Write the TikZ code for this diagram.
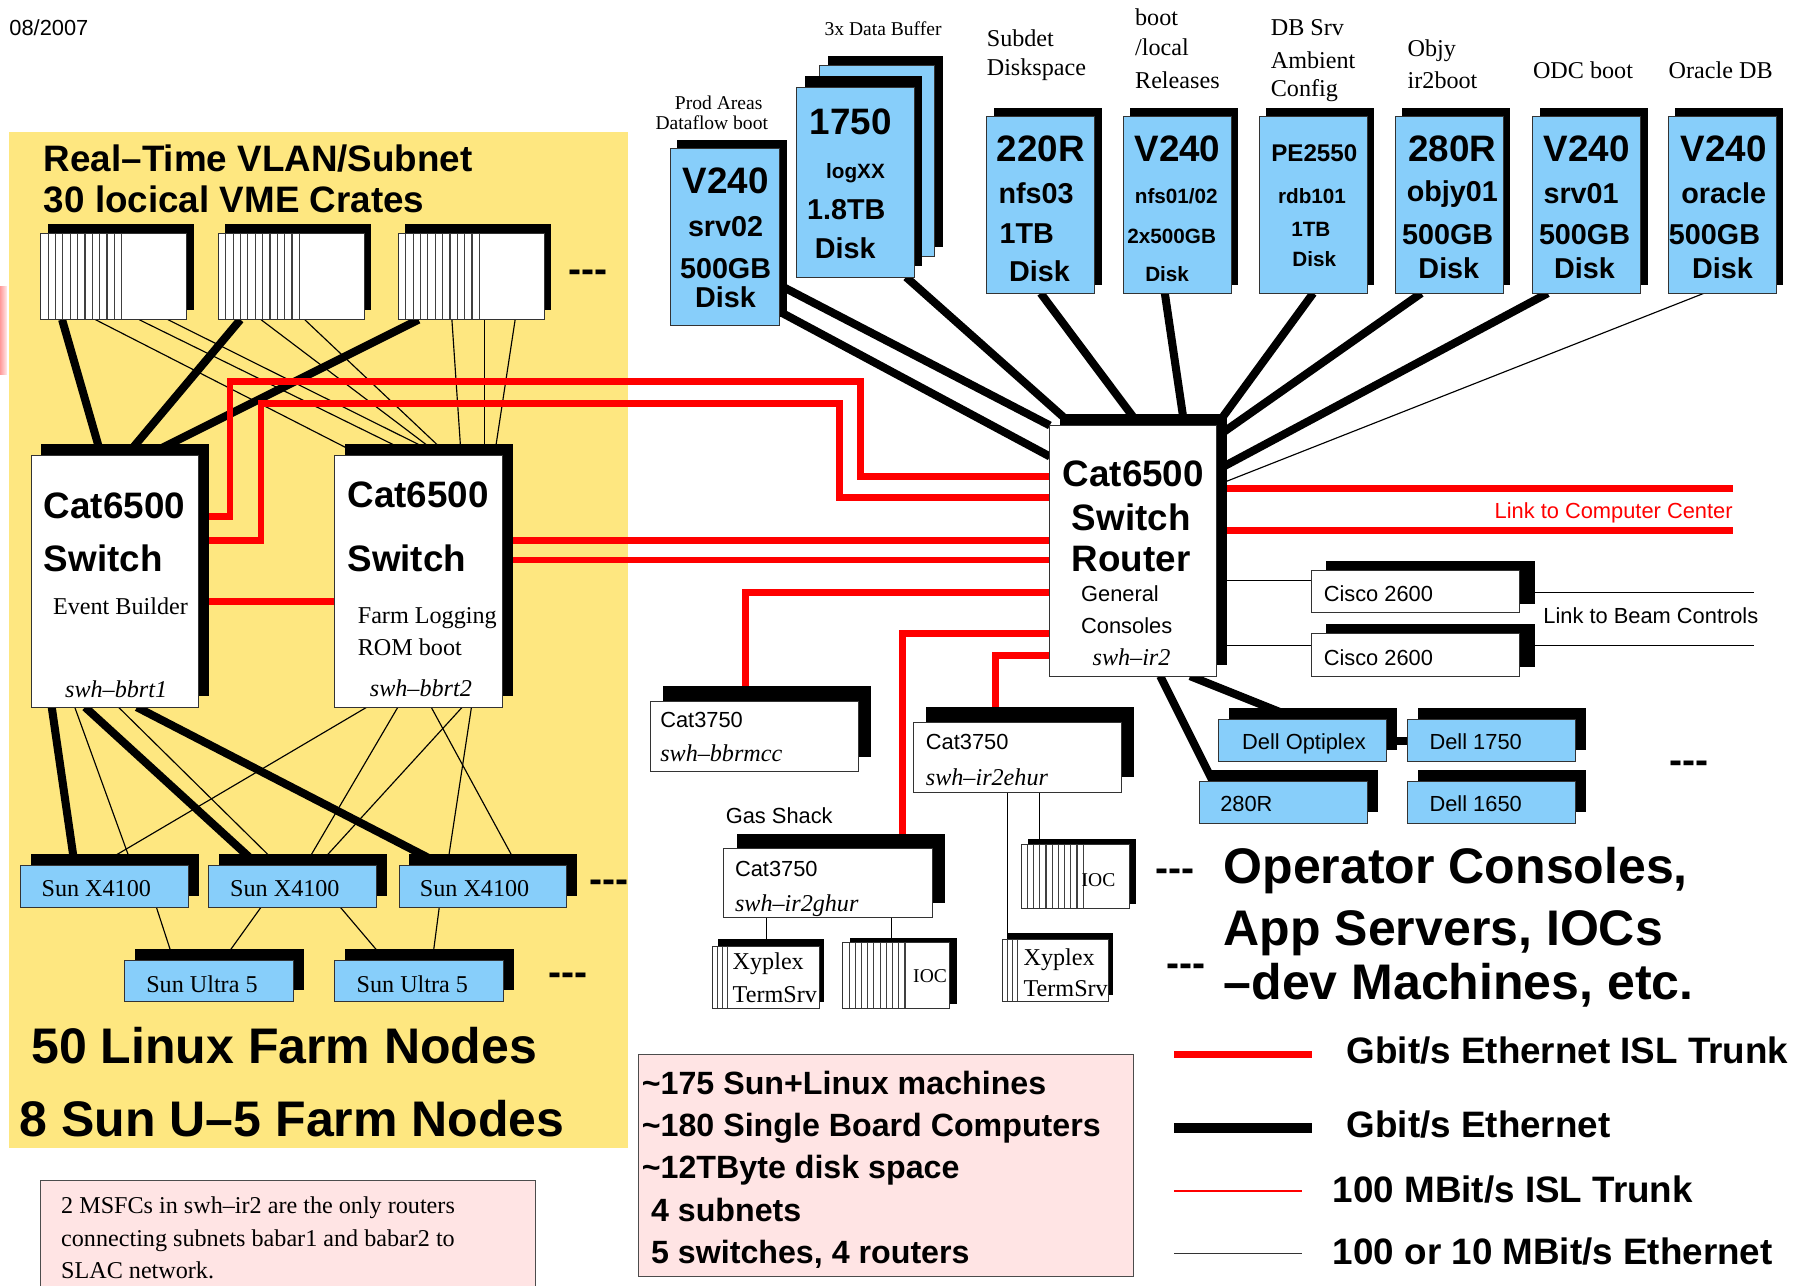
\documentclass[tikz,border=0pt]{standalone}
\usepackage{fontspec}
\setmainfont{Liberation Serif}
\setsansfont{Liberation Sans}
\usepackage{tikz}
\usetikzlibrary{shadows}
\definecolor{vlanyellow}{RGB}{254,231,128}
\definecolor{hostblue}{RGB}{135,206,250}
\definecolor{notepink}{RGB}{255,228,228}
\pgfdeclarelayer{canvas}
\pgfdeclarelayer{background}
\pgfsetlayers{canvas,background,main}

\begin{document}
\begin{tikzpicture}[x=1pt, y=-1pt]

    % Shadows and slot stripes
    \tikzset{shd/.style 2 args={drop shadow={shadow xshift=#1pt, shadow yshift=#2pt, fill=black, opacity=1}}}
    \tikzset{rack/.style 2 args={path picture={\foreach \s in {1,...,#1} \draw[line width=1pt, black!75] ([xshift=\s*#2pt]path picture bounding box.south west) -- ([xshift=\s*#2pt]path picture bounding box.north west);}}}

    % Boxes
    \tikzset{bx/.style={draw=black!80, line width=0.8pt, inner sep=0pt, outer sep=0pt}}
    \tikzset{crate/.style={bx, fill=white, minimum width=127pt, minimum height=75pt, shd={6}{8}, rack={11}{6.4}}}
    \tikzset{swc/.style={bx, fill=white, minimum width=146pt, minimum height=219pt, shd={9}{10}}}
    \tikzset{diskb/.style={bx, fill=hostblue}}
    \tikzset{disk/.style={diskb, minimum width=94pt, minimum height=154pt, shd={6}{7}}}
    \tikzset{cat/.style={bx, fill=white, minimum width=181pt, minimum height=61pt, shd={11}{13}}}
    \tikzset{host/.style={bx, fill=hostblue, minimum width=146pt, minimum height=36pt, shd={9}{10}}}
    \tikzset{cisco/.style={bx, fill=white, minimum width=181pt, minimum height=37pt, shd={13}{8}}}
    \tikzset{ioc/.style={bx, fill=white, minimum width=93pt, minimum height=57pt, shd={6}{4}, rack={10}{5.4}}}
    \tikzset{xyp/.style={bx, fill=white, minimum width=93pt, minimum height=54pt, shd={4}{6}, rack={3}{4.3}}}

    % Texts
    \tikzset{tB/.style={inner sep=0pt, font=\sffamily\bfseries\fontsize{32}{32}\selectfont}}
    \tikzset{tM/.style={inner sep=0pt, font=\sffamily\bfseries\fontsize{25}{25}\selectfont}}
    \tikzset{tS/.style={inner sep=0pt, font=\sffamily\bfseries\fontsize{18}{18}\selectfont}}
    \tikzset{tH/.style={inner sep=0pt, font=\sffamily\bfseries\fontsize{43.5}{43.5}\selectfont}}
    \tikzset{tX/.style={inner sep=0pt, font=\sffamily\bfseries\fontsize{28}{28}\selectfont}}
    \tikzset{tN/.style={inner sep=0pt, font=\sffamily\fontsize{19}{19}\selectfont}}
    \tikzset{tR/.style={inner sep=0pt, font=\rmfamily\fontsize{21}{21}\selectfont}}
    \tikzset{tP/.style={inner sep=0pt, font=\rmfamily\fontsize{17}{17}\selectfont}}
    \tikzset{tI/.style={inner sep=0pt, font=\rmfamily\itshape\fontsize{21}{21}\selectfont}}
    \tikzset{tD/.style={inner sep=0pt, anchor=base, font=\sffamily\bfseries\fontsize{34}{34}\selectfont}}

    % Links
    \tikzset{gbT/.style={draw=red, line width=6pt}}
    \tikzset{gbE/.style={draw=black, line width=7pt}}
    \tikzset{mbT/.style={draw=red, line width=1.5pt}}
    \tikzset{mbE/.style={draw=black, line width=1pt}}

    \useasboundingbox (0,0) rectangle (1568,1118);

    % Real-time subnet area
    \begin{pgfonlayer}{canvas}
        \fill[white] (0,0) rectangle (1568,1118);
        \fill[vlanyellow] (8,115) rectangle (546,998);
        \shade[left color=red!40, right color=red!8] (0,249) rectangle (6,326);
    \end{pgfonlayer}

    \node (date) [tN, anchor=base west] at (8,31) {08/2007};
    \node (vlan1) [tB, anchor=base west] at (38,149.5) {Real–Time VLAN/Subnet};
    \node (vlan2) [tB, anchor=base west] at (38,185) {30 locical VME Crates};

    % VME crates
    \node (c1) [crate] at (99,240.5) {};
    \node (c2) [crate] at (253.5,240.5) {};
    \node (c3) [crate] at (410,240.5) {};
    \node (cdots) [tD] at (511,246) {-{}-{}-};

    % Event builder and farm switches
    \node (sw1) [swc] at (100,505.5) {};
    \node (sw1a) [tB, anchor=base west] at (38,451) {Cat6500};
    \node (sw1b) [tB, anchor=base west] at (38,497) {Switch};
    \node (sw1c) [tR, anchor=base west] at (46,534) {Event Builder};
    \node (sw1d) [tI, anchor=base] at (101,607) {swh–bbrt1};
    \node (sw2) [swc] at (364,505.5) {};
    \node (sw2a) [tB, anchor=base west] at (302,441) {Cat6500};
    \node (sw2b) [tB, anchor=base west] at (302,497) {Switch};
    \node (sw2c) [tR, anchor=base west] at (311,542) {Farm Logging};
    \node (sw2d) [tR, anchor=base west] at (311,570) {ROM boot};
    \node (sw2e) [tI, anchor=base] at (366,606) {swh–bbrt2};

    % Farm nodes
    \node (x1) [host] at (91,771) {};
    \node (x2) [host] at (254.5,771) {};
    \node (x3) [host] at (420,771) {};
    \node (x1a) [tR, anchor=base west] at (36,780) {Sun X4100};
    \node (x2a) [tR, anchor=base west] at (200,780) {Sun X4100};
    \node (x3a) [tR, anchor=base west] at (365,780) {Sun X4100};
    \node (xdots) [tD] at (530,776) {-{}-{}-};
    \node (u1) [host, minimum width=147pt] at (181.5,853) {};
    \node (u2) [host, minimum width=147pt] at (364.5,853) {};
    \node (u1a) [tR, anchor=base west] at (127,863) {Sun Ultra 5};
    \node (u2a) [tR, anchor=base west] at (310,863) {Sun Ultra 5};
    \node (udots) [tD] at (494,857) {-{}-{}-};
    \node (farm1) [tH, anchor=base west] at (27,924.5) {50 Linux Farm Nodes};
    \node (farm2) [tH, anchor=base west] at (17,988.5) {8 Sun U–5 Farm Nodes};

    % Note
    \draw[draw=black!70, line width=0.8pt, fill=notepink] (35,1027) rectangle (466,1130);
    \node (note1) [tR, anchor=base west] at (53,1055) {2 MSFCs in swh–ir2 are the only routers};
    \node (note2) [tR, anchor=base west] at (53,1084) {connecting subnets babar1 and babar2 to};
    \node (note3) [tR, anchor=base west] at (53,1112) {SLAC network.};

    % Disk servers
    \node (srv02) [disk, minimum width=95pt] at (630.5,206) {};
    \node (srv02l1) [tP, anchor=base] at (625,95.5) {Prod Areas};
    \node (srv02l2) [tP, anchor=base] at (619,113) {Dataflow boot};
    \node (srv02a) [tB, anchor=base] at (631,168) {V240};
    \node (srv02b) [tM, anchor=base] at (631,206) {srv02};
    \node (srv02c) [tM, anchor=base] at (631,242) {500GB};
    \node (srv02d) [tM, anchor=base] at (631,267) {Disk};

    \node (buf2) [diskb, minimum width=100pt, minimum height=166pt, shd={7}{8}] at (763,140) {};
    \node (buf1) [diskb, minimum width=102pt, minimum height=165pt, shd={7}{10}] at (744,158.5) {};
    \node (bufl) [tP, anchor=base] at (768,30.5) {3x Data Buffer};
    \node (bufa) [tB, anchor=base] at (740,117) {1750};
    \node (bufb) [tS, anchor=base] at (744,155) {logXX};
    \node (bufc) [tM, anchor=base] at (736,191) {1.8TB};
    \node (bufd) [tM, anchor=base] at (735,224.5) {Disk};

    \node (r220) [disk] at (905,178) {};
    \node (r220l1) [tR, anchor=base west] at (858,40.5) {Subdet};
    \node (r220l2) [tR, anchor=base west] at (858,66) {Diskspace};
    \node (r220a) [tB, anchor=base] at (905,140.5) {220R};
    \node (r220b) [tM, anchor=base] at (901,177) {nfs03};
    \node (r220c) [tM, anchor=base] at (893,211.5) {1TB};
    \node (r220d) [tM, anchor=base] at (904,245) {Disk};

    \node (nfs) [disk] at (1024,178) {};
    \node (nfsl1) [tR, anchor=base west] at (987,22.5) {boot};
    \node (nfsl2) [tR, anchor=base west] at (987,48) {/local};
    \node (nfsl3) [tR, anchor=base west] at (987,77) {Releases};
    \node (nfsa) [tB, anchor=base] at (1024,140.5) {V240};
    \node (nfsb) [tS, anchor=base] at (1023,177) {nfs01/02};
    \node (nfsc) [tS, anchor=base] at (1019,211.5) {2x500GB};
    \node (nfsd) [tS, anchor=base] at (1015,245) {Disk};

    \node (pe) [disk] at (1142,178) {};
    \node (pel1) [tR, anchor=base west] at (1105,30.5) {DB Srv};
    \node (pel2) [tR, anchor=base west] at (1105,59.5) {Ambient};
    \node (pel3) [tR, anchor=base west] at (1105,84) {Config};
    \node (pea) [tS, anchor=base, font=\sffamily\bfseries\fontsize{21}{21}\selectfont] at (1143,140.5) {PE2550};
    \node (peb) [tS, anchor=base] at (1141,177) {rdb101};
    \node (pec) [tS, anchor=base] at (1140,206) {1TB};
    \node (ped) [tS, anchor=base] at (1143,232) {Disk};

    \node (r280) [disk] at (1260.5,178) {};
    \node (r280l1) [tR, anchor=base west] at (1224,49) {Objy};
    \node (r280l2) [tR, anchor=base west] at (1224,77) {ir2boot};
    \node (r280a) [tB, anchor=base] at (1263,140.5) {280R};
    \node (r280b) [tM, anchor=base] at (1263,175.5) {objy01};
    \node (r280c) [tM, anchor=base] at (1259,213) {500GB};
    \node (r280d) [tM, anchor=base] at (1260,242) {Disk};

    \node (srv01) [disk] at (1380,178) {};
    \node (srv01l) [tR, anchor=base west] at (1333,68) {ODC boot};
    \node (srv01a) [tB, anchor=base] at (1380,140.5) {V240};
    \node (srv01b) [tM, anchor=base] at (1375,177) {srv01};
    \node (srv01c) [tM, anchor=base] at (1378,213) {500GB};
    \node (srv01d) [tM, anchor=base] at (1378,242) {Disk};

    \node (oracle) [disk] at (1498,178) {};
    \node (oraclel) [tR, anchor=base west] at (1451,68) {Oracle DB};
    \node (oraclea) [tB, anchor=base] at (1499,140.5) {V240};
    \node (oracleb) [tM, anchor=base] at (1499,177) {oracle};
    \node (oraclec) [tM, anchor=base] at (1491,213) {500GB};
    \node (oracled) [tM, anchor=base] at (1498,242) {Disk};

    % Router
    \node (router) [swc, minimum width=145pt, minimum height=218pt] at (985.5,479) {};
    \node (routera) [tB, anchor=base west] at (924,423.5) {Cat6500};
    \node (routerb) [tB, anchor=base west] at (932,461) {Switch};
    \node (routerc) [tB, anchor=base west] at (932,497) {Router};
    \node (routerd) [tN, anchor=base west] at (940,523) {General};
    \node (routere) [tN, anchor=base west] at (940,551) {Consoles};
    \node (routerf) [tI, anchor=base west] at (950,579) {swh–ir2};

    % Access switches
    \node (bbrmcc) [cat] at (656,640.5) {};
    \node (bbrmcca) [tN, anchor=base west] at (574,633) {Cat3750};
    \node (bbrmccb) [tI, anchor=base west] at (574,662) {swh–bbrmcc};
    \node (ehur) [cat] at (885,658.5) {};
    \node (ehura) [tN, anchor=base west] at (805,652) {Cat3750};
    \node (ehurb) [tI, anchor=base west] at (805,683) {swh–ir2ehur};
    \node (gasl) [tN, anchor=base west] at (631,716.5) {Gas Shack};
    \node (gas) [cat, minimum height=60pt] at (720,768) {};
    \node (gasa) [tN, anchor=base west] at (639,762) {Cat3750};
    \node (gasb) [tI, anchor=base west] at (639,793) {swh–ir2ghur};

    % Terminal servers and IOCs
    \node (xypl) [xyp] at (666.5,850) {};
    \node (xypla) [tR, anchor=base west] at (637,843) {Xyplex};
    \node (xyplb) [tR, anchor=base west] at (637,872) {TermSrv};
    \node (iocl) [ioc] at (779.5,848.5) {};
    \node (iocla) [tP, anchor=base west] at (794,854) {IOC};
    \node (iocr) [ioc, minimum width=94pt, minimum height=56pt] at (935,762) {};
    \node (iocra) [tP, anchor=base west] at (940.5,771) {IOC};
    \node (iocdots) [tD] at (1022,767) {-{}-{}-};
    \node (xypr) [xyp, minimum width=92pt] at (918,844) {};
    \node (xypra) [tR, anchor=base west] at (890,840) {Xyplex};
    \node (xyprb) [tR, anchor=base west] at (890,867) {TermSrv};
    \node (xypdots) [tD] at (1031,849) {-{}-{}-};

    % Routers to beam controls, computer center
    \node (cis1) [cisco] at (1231,514.5) {};
    \node (cis1a) [tN, anchor=base west] at (1151,523.5) {Cisco 2600};
    \node (cis2) [cisco] at (1231,569.5) {};
    \node (cis2a) [tN, anchor=base west] at (1151,579) {Cisco 2600};
    \node (beam) [tN, anchor=base west] at (1342,542.5) {Link to Beam Controls};
    \node (cctr) [tN, text=red, anchor=base east] at (1507,451) {Link to Computer Center};
    \coordinate (cc1) at (1507,425);
    \coordinate (cc2) at (1507,461);
    \coordinate (bc1) at (1525,515.5);
    \coordinate (bc2) at (1525,561);

    % Consoles and servers
    \node (opx) [host] at (1133,644) {};
    \node (opxa) [tN, anchor=base west] at (1080,652) {Dell Optiplex};
    \node (d1750) [host] at (1297,644) {};
    \node (d1750a) [tN, anchor=base west] at (1243,652) {Dell 1750};
    \node (h280) [host] at (1116,698) {};
    \node (h280a) [tN, anchor=base west] at (1061,706) {280R};
    \node (d1650) [host] at (1297,698) {};
    \node (d1650a) [tN, anchor=base west] at (1243,706) {Dell 1650};
    \node (hdots) [tD] at (1469,673) {-{}-{}-};
    \node (ops1) [tH, anchor=base west] at (1064,768) {Operator Consoles,};
    \node (ops2) [tH, anchor=base west] at (1064,822) {App Servers, IOCs};
    \node (ops3) [tH, anchor=base west] at (1064,869.5) {–dev Machines, etc.};

    % Totals
    \draw[draw=black!70, line width=0.8pt, fill=notepink] (555,917) rectangle (986,1110);
    \node (tot1) [tX, anchor=base west] at (558,952) {\textasciitilde 175 Sun+Linux machines};
    \node (tot2) [tX, anchor=base west] at (558,988.5) {\textasciitilde 180 Single Board Computers};
    \node (tot3) [tX, anchor=base west] at (558,1024.5) {\textasciitilde 12TByte disk space};
    \node (tot4) [tX, anchor=base west] at (566,1062.5) {4 subnets};
    \node (tot5) [tX, anchor=base west] at (566,1098.5) {5 switches, 4 routers};

    % Legend
    \coordinate (lg1a) at (1021,917);
    \coordinate (lg1b) at (1141,917);
    \coordinate (lg2a) at (1021,981);
    \coordinate (lg2b) at (1141,981);
    \coordinate (lg3a) at (1021,1036);
    \coordinate (lg3b) at (1132,1036);
    \coordinate (lg4a) at (1021,1090);
    \coordinate (lg4b) at (1132,1090);
    \path[gbT] (lg1a) -- (lg1b);
    \path[gbE, line width=8pt] (lg2a) -- (lg2b);
    \path[mbT] (lg3a) -- (lg3b);
    \path[mbE, draw=black!80] (lg4a) -- (lg4b);
    \node (lg1) [tB, anchor=base west] at (1171,925) {Gbit/s Ethernet ISL Trunk};
    \node (lg2) [tB, anchor=base west] at (1171,989.5) {Gbit/s Ethernet};
    \node (lg3) [tB, anchor=base west] at (1159,1046) {100 MBit/s ISL Trunk};
    \node (lg4) [tB, anchor=base west] at (1159,1100) {100 or 10 MBit/s Ethernet};

    % Links, behind the boxes
    \begin{pgfonlayer}{background}

        % Crates to switches
        \path[mbE] ([xshift=47.5pt]c1.south west) -- ([xshift=23pt]sw2.north west);
        \path[mbE] ([xshift=85.5pt]c1.south west) -- ([xshift=70pt]sw2.north west);
        \path[mbE] ([xshift=110.5pt]c1.south west) -- ([xshift=92pt]sw2.north west);
        \path[mbE] ([xshift=37pt]c2.south west) -- ([xshift=92pt]sw2.north west);
        \path[mbE] ([xshift=75pt]c2.south west) -- ([xshift=99pt]sw2.north west);
        \path[mbE] ([xshift=46.5pt]c3.south west) -- ([xshift=110pt]sw2.north west);
        \path[mbE] ([xshift=74.5pt]c3.south west) -- ([xshift=130pt]sw2.north west);
        \path[mbE] ([xshift=101.5pt]c3.south west) -- ([xshift=139pt]sw2.north west);
        \path[gbE] ([xshift=18.5pt]c1.south west) -- ([xshift=61pt]sw1.north west);
        \path[gbE] ([xshift=19pt]c2.south west) -- ([xshift=83pt]sw1.north west);
        \path[gbE] ([xshift=17.5pt]c3.south west) -- ([xshift=101pt]sw1.north west);

        % Switches to farm nodes
        \path[mbE] ([xshift=38pt]sw1.south west) -- ([xshift=97pt]x1.north west);
        \path[mbE] ([xshift=76pt]sw1.south west) -- ([xshift=61.5pt]x2.north west);
        \path[mbE] ([xshift=28pt]sw2.south west) -- ([xshift=67pt]x1.north west);
        \path[mbE] ([xshift=55pt]sw2.south west) -- ([xshift=83.5pt]x2.north west);
        \path[mbE] ([xshift=111pt]sw2.south west) -- ([xshift=94.5pt]x2.north west);
        \path[mbE] ([xshift=84pt]sw2.south west) -- ([xshift=103pt]x3.north west);
        \path[mbE] ([xshift=119pt]sw2.south west) -- ([xshift=42pt]x3.north west);
        \path[gbE] ([xshift=18pt]sw1.south west) -- ([xshift=47pt]x1.north west);
        \path[gbE] ([xshift=47pt]sw1.south west) -- ([xshift=43.5pt]x2.north west);
        \path[gbE] ([xshift=92pt]sw1.south west) -- ([xshift=39pt]x3.north west);
        \path[mbE] ([xshift=118pt]x1.south west) -- ([xshift=43pt]u1.north west);
        \path[mbE] ([xshift=45.5pt]x2.south west) -- ([xshift=86pt]u1.north west);
        \path[mbE] ([xshift=114.5pt]x2.south west) -- ([xshift=44pt]u2.north west);
        \path[mbE] ([xshift=35pt]x3.south west) -- ([xshift=85pt]u2.north west);

        % Disk servers to router
        \path[gbE] ([yshift=-42pt]srv02.east) -- (router.north west);
        \path[gbE] ([yshift=-65pt]srv02.east) -- ([yshift=-27pt]router.north west);
        \path[gbE] ([xshift=-7pt]buf1.south east) -- ([xshift=20pt]router.north west);
        \path[gbE] (r220.south) -- ([xshift=78pt]router.north west);
        \path[gbE] ([xshift=-11pt]nfs.south) -- ([xshift=117pt]router.north west);
        \path[gbE] (pe.south) -- (router.north east);
        \path[gbE] ([xshift=-24.5pt]r280.south) -- ([yshift=-10pt]router.north east);
        \path[gbE] ([xshift=-34pt]srv01.south) -- ([yshift=-39pt]router.north east);
        \path[mbE] ([xshift=-16pt]oracle.south) -- ([yshift=-52pt]router.north east);

        % Router to consoles
        \path[gbE] ([xshift=96pt]router.south west) -- ([xshift=12pt]h280.north west);
        \path[gbE] ([xshift=122pt]router.south west) -- ([xshift=70pt]opx.north west);
        \path[gbE] (opx.east) -- (d1750.west);

        % Trunks
        \path[gbT] ([yshift=56.5pt]sw1.east) -| (200,332) -| (748,414) -- ([yshift=65pt]router.west);
        \path[gbT] ([yshift=35.5pt]sw1.east) -| (227,351) -| (730,433) -- ([yshift=46pt]router.west);
        \path[gbT] ([yshift=-17.5pt]sw1.east) -- ([yshift=-17.5pt]sw2.west);
        \path[gbT] ([yshift=35.5pt]sw2.east) -- ([yshift=9pt]router.west);
        \path[gbT] ([yshift=18.5pt]sw2.east) -- ([yshift=-8pt]router.west);
        \path[gbT] ([yshift=-36pt]router.west) -| ([xshift=-8pt]bbrmcc.north);
        \path[gbT] ([yshift=-72pt]router.west) -| ([xshift=65pt]gas.north);
        \path[gbT] ([yshift=-91pt]router.west) -| ([xshift=-19pt]ehur.north);
        \path[gbT] ([yshift=54pt]router.east) -- (cc1);
        \path[gbT] ([yshift=18pt]router.east) -- (cc2);

        % Slow links
        \path[mbE] ([yshift=-26pt]router.east) -- ([yshift=9.5pt]cis1.west);
        \path[mbE] ([yshift=-82pt]router.east) -- ([yshift=8.5pt]cis2.west);
        \path[mbE] ([yshift=-1pt]cis1.east) -- (bc1);
        \path[mbE] ([yshift=8.5pt]cis2.east) -- (bc2);
        \path[mbE] (xypl.north) -- (xypl.north |- gas.south);
        \path[mbE] ([xshift=-4.5pt]iocl.north) -- ([xshift=-4.5pt]iocl.north |- gas.south);
        \path[mbE] ([xshift=4pt]xypr.north west) -- ([xshift=4pt]xypr.north west |- ehur.south);
        \path[mbE] ([xshift=16pt]iocr.north west) -- ([xshift=16pt]iocr.north west |- ehur.south);

    \end{pgfonlayer}

\end{tikzpicture}
\end{document}
